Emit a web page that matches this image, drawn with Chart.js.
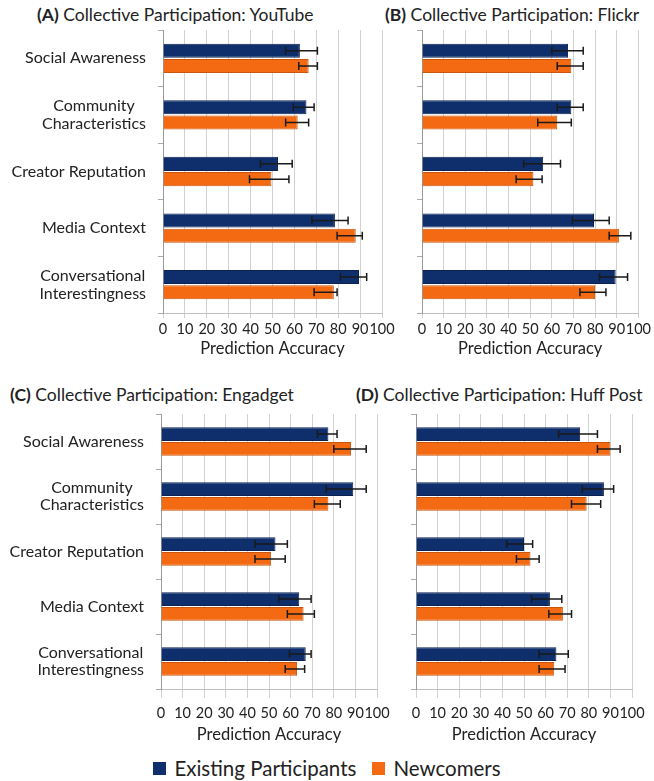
<!DOCTYPE html>
<html>
<head>
<meta charset="utf-8">
<script src="https://cdn.jsdelivr.net/npm/chart.js@4.4.1/dist/chart.umd.min.js"></script>
<style>
  body { margin: 0; width: 654px; height: 781px; overflow: hidden; background: #fff; position: relative; font-family: Lato, sans-serif; color: #222; }
  canvas { position: absolute; }
  .title { position: absolute; font-size: 17.5px; line-height: 20px; white-space: nowrap; }
  #legend { position: absolute; top: 756px; left: 0; width: 654px; display: flex; justify-content: center; align-items: center; font-size: 20.5px; }
  #legend span.sw { display: inline-block; width: 13px; height: 13px; margin-right: 8px; }
  #legend .item { display: flex; align-items: center; margin: 0 8px; }
</style>
</head>
<body>
<div class="title" style="left:37px;top:5px"><b>(A)</b> Collective Participation: YouTube</div>
<div class="title" style="left:385px;top:5px"><b>(B)</b> Collective Participation: Flickr</div>
<div class="title" style="left:10px;top:385px"><b>(C)</b> Collective Participation: Engadget</div>
<div class="title" style="left:356px;top:385px"><b>(D)</b> Collective Participation: Huff Post</div>

<canvas id="chartA" width="400" height="362" style="left:0;top:0"></canvas>
<canvas id="chartB" width="254" height="362" style="left:400px;top:0"></canvas>
<canvas id="chartC" width="400" height="363" style="left:0;top:385px"></canvas>
<canvas id="chartD" width="254" height="363" style="left:400px;top:385px"></canvas>

<div id="legend">
  <div class="item"><span class="sw" style="background:#0f2e6c"></span>Existing Participants</div>
  <div class="item"><span class="sw" style="background:#f46a12"></span>Newcomers</div>
</div>

<script>
const categories = ['Social Awareness', ['Community', 'Characteristics'], 'Creator Reputation', 'Media Context', ['Conversational', 'Interestingness']];
const xTicks = [0, 10, 20, 30, 40, 50, 60, 70, 80, 90, 100];

// (A) YouTube
const youtubeExisting = [62.5, 65.5, 52.5, 78.5, 89.5];
const youtubeExistingErr = [[56, 70.5], [59.5, 69], [44.5, 59], [68, 84.5], [81, 93]];
const youtubeNewcomers = [66.5, 61.5, 49.5, 88, 78];
const youtubeNewcomersErr = [[62, 70.5], [56, 66.5], [39.5, 57.5], [79.5, 91], [69, 79.5]];

// (B) Flickr
const flickrExisting = [67.5, 69, 56, 79.5, 89.5];
const flickrExistingErr = [[60, 74.5], [62.5, 74.5], [47, 64], [69.5, 86.5], [82, 95]];
const flickrNewcomers = [69, 62.5, 51.5, 91, 80];
const flickrNewcomersErr = [[62.5, 74.5], [53.5, 69], [43.5, 55.5], [86.5, 96.5], [73, 85]];

// (C) Engadget
const engadgetExisting = [77.5, 89, 53, 64, 67];
const engadgetExistingErr = [[72.5, 81.5], [76.5, 95], [43.5, 58.5], [54.5, 69.5], [59.5, 69.5]];
const engadgetNewcomers = [88, 77.5, 51, 66, 63];
const engadgetNewcomersErr = [[80, 95], [71, 83], [43.5, 57.5], [58.5, 71], [57.5, 66.5]];

// (D) Huff Post
const huffExisting = [76, 87, 50, 62, 65];
const huffExistingErr = [[66, 84], [77, 91.5], [42, 54], [53.5, 67.5], [57, 70.5]];
const huffNewcomers = [90, 79, 53, 68, 64];
const huffNewcomersErr = [[84, 94.5], [72, 85.5], [46.5, 57], [61.5, 72], [57, 69]];

const BLUE = '#0f2e6c', ORANGE = '#f46a12';

// whiskers drawn from the dataset's errors array through the x scale
const errorBars = {
    id: 'errorBars',
    afterDatasetsDraw(chart) {
        const ctx = chart.ctx, x = chart.scales.x;
        chart.data.datasets.forEach((ds, i) => {
            chart.getDatasetMeta(i).data.forEach((bar, j) => {
                const x1 = x.getPixelForValue(ds.errors[j][0]);
                const x2 = x.getPixelForValue(ds.errors[j][1]);
                const y = bar.y;
                ctx.save();
                ctx.strokeStyle = '#1a1a1a';
                ctx.lineWidth = 1.5;
                ctx.beginPath();
                ctx.moveTo(x1, y); ctx.lineTo(x2, y);
                ctx.moveTo(x1, y - 4); ctx.lineTo(x1, y + 4);
                ctx.moveTo(x2, y - 4); ctx.lineTo(x2, y + 4);
                ctx.stroke();
                ctx.restore();
            });
        });
    }
};

// right-aligned label blocks, lines centred within each block
const catLabels = {
    id: 'catLabels',
    afterDraw(chart, args, opts) {
        if (!opts.show) return;
        const ctx = chart.ctx, y = chart.scales.y;
        ctx.save();
        ctx.font = '16px Lato';
        ctx.fillStyle = '#222';
        ctx.textAlign = 'center';
        ctx.textBaseline = 'middle';
        chart.data.labels.forEach((lab, i) => {
            const lines = Array.isArray(lab) ? lab : [lab];
            const w = Math.max(...lines.map(l => ctx.measureText(l).width));
            const cx = chart.chartArea.left - opts.gap - w / 2;
            const cy = y.getPixelForTick(i);
            lines.forEach((l, k) => ctx.fillText(l, cx, cy + (k - (lines.length - 1) / 2) * 17.5));
        });
        ctx.restore();
    }
};

function makeChart(id, existing, existingErr, newcomers, newcomersErr, cfg) {
    return new Chart(document.getElementById(id), {
        type: 'bar',
        data: {
            labels: categories,
            datasets: [
                { label: 'Existing Participants', data: existing, errors: existingErr, backgroundColor: BLUE, borderColor: '#0a2152', borderWidth: 1 },
                { label: 'Newcomers', data: newcomers, errors: newcomersErr, backgroundColor: ORANGE, borderColor: '#c9560c', borderWidth: 1 }
            ]
        },
        options: {
            indexAxis: 'y',
            responsive: false,
            animation: false,
            categoryPercentage: 0.54,
            barPercentage: 0.92,
            layout: { padding: { left: 0, top: cfg.top, right: cfg.right, bottom: 0 } },
            plugins: {
                legend: { display: false },
                tooltip: { enabled: false },
                catLabels: { show: cfg.labels, gap: 17 }
            },
            scales: {
                x: {
                    min: 0, max: 100,
                    afterBuildTicks: s => { s.ticks = xTicks.map(v => ({ value: v })); },
                    afterFit: s => { s.height = cfg.xHeight; },
                    ticks: { font: { family: 'Lato', size: 14.5 }, color: '#222', padding: cfg.tickPad, maxRotation: 0, autoSkip: false },
                    grid: { color: '#d2d2d2', tickLength: cfg.tickLen },
                    border: { color: '#c0c0c0' },
                    title: { display: true, text: 'Prediction Accuracy', font: { family: 'Lato', size: 16.5 }, color: '#222', padding: { top: 0, bottom: 3 } }
                },
                y: {
                    afterFit: s => { s.width = cfg.yWidth; },
                    ticks: { display: false },
                    grid: { offset: true, drawOnChartArea: false, tickLength: 5, color: '#aaa' },
                    border: { color: '#999' }
                }
            }
        },
        plugins: [errorBars, catLabels]
    });
}

makeChart('chartA', youtubeExisting, youtubeExistingErr, youtubeNewcomers, youtubeNewcomersErr,
    { top: 30, right: 18, yWidth: 163, xHeight: 49, tickLen: 5, tickPad: 3, labels: true });
makeChart('chartB', flickrExisting, flickrExistingErr, flickrNewcomers, flickrNewcomersErr,
    { top: 30, right: 12, yWidth: 22, xHeight: 49, tickLen: 5, tickPad: 3, labels: false });
makeChart('chartC', engadgetExisting, engadgetExistingErr, engadgetNewcomers, engadgetNewcomersErr,
    { top: 29, right: 23, yWidth: 161, xHeight: 59, tickLen: 9, tickPad: 7, labels: true });
makeChart('chartD', huffExisting, huffExistingErr, huffNewcomers, huffNewcomersErr,
    { top: 29, right: 22, yWidth: 16, xHeight: 59, tickLen: 9, tickPad: 7, labels: false });
</script>
</body>
</html>
